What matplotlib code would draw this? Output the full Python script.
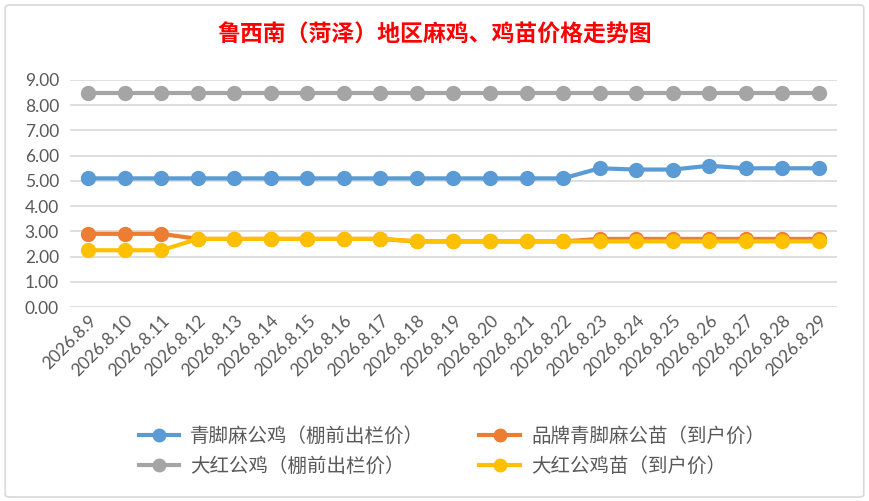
import matplotlib.pyplot as plt
from matplotlib.patches import FancyBboxPatch
from matplotlib.lines import Line2D

plt.rcParams['font.family'] = ['Noto Sans CJK SC', 'DejaVu Sans']

# 日期
dates = ['2026.8.9', '2026.8.10', '2026.8.11', '2026.8.12', '2026.8.13', '2026.8.14',
         '2026.8.15', '2026.8.16', '2026.8.17', '2026.8.18', '2026.8.19', '2026.8.20',
         '2026.8.21', '2026.8.22', '2026.8.23', '2026.8.24', '2026.8.25', '2026.8.26',
         '2026.8.27', '2026.8.28', '2026.8.29']

# 各系列价格
qingjiao_gongji = [5.1, 5.1, 5.1, 5.1, 5.1, 5.1, 5.1, 5.1, 5.1, 5.1, 5.1, 5.1, 5.1, 5.1,
                   5.5, 5.45, 5.45, 5.6, 5.5, 5.5, 5.5]
pinpai_miao = [2.9, 2.9, 2.9, 2.7, 2.7, 2.7, 2.7, 2.7, 2.7, 2.6, 2.6, 2.6, 2.6, 2.6,
               2.7, 2.7, 2.7, 2.7, 2.7, 2.7, 2.7]
dahong_gongji = [8.5] * 21
dahong_miao = [2.25, 2.25, 2.25, 2.7, 2.7, 2.7, 2.7, 2.7, 2.7, 2.6, 2.6, 2.6, 2.6, 2.6,
               2.6, 2.6, 2.6, 2.6, 2.6, 2.6, 2.6]

names = ['青脚麻公鸡（棚前出栏价）', '品牌青脚麻公苗（到户价）',
         '大红公鸡（棚前出栏价）', '大红公鸡苗（到户价）']
colors = ['#5B9BD5', '#ED7D31', '#A5A5A5', '#FFC000']
series = [qingjiao_gongji, pinpai_miao, dahong_gongji, dahong_miao]

fig = plt.figure(figsize=(8.69, 5.01), dpi=100)
fig.patches.append(FancyBboxPatch((0.006, 0.008), 0.988, 0.982, boxstyle='round,pad=0,rounding_size=0.005',
                                  transform=fig.transFigure, fc='none', ec='#D9D9D9', lw=1.2))

ax = fig.add_axes([70 / 869, 1 - 307 / 501, 767 / 869, 227 / 501])
x = range(len(dates))
for i in range(4):
    ax.plot(x, series[i], '-o', color=colors[i], lw=3, ms=10, zorder=3 + i)

ax.set_xlim(-0.5, len(dates) - 0.5)
ax.set_ylim(0, 9)
ax.set_yticks([i for i in range(10)])
ax.set_yticklabels(['%.2f' % i for i in range(10)], family='Lato', fontsize=12.5, color='#595959')
ax.set_xticks(list(x))
ax.set_xticklabels(dates, rotation=45, ha='right', rotation_mode='anchor',
                   family='Lato', fontsize=12.5, color='#595959')
ax.tick_params(length=0, pad=8)
ax.tick_params(axis='x', pad=4)
ax.grid(axis='y', color='#D9D9D9', lw=1.2)
ax.set_axisbelow(True)
for s in ax.spines.values():
    s.set_visible(False)

fig.text(0.5, 1 - 35 / 501, '鲁西南（菏泽）地区麻鸡、鸡苗价格走势图', ha='center', va='center',
         color='red', fontsize=16.5, fontweight='bold')

handles = [Line2D([], [], color=c, lw=3, marker='o', ms=9) for c in colors]
order = [0, 2, 1, 3]
fig.legend([handles[i] for i in order], [names[i] for i in order], ncol=2,
           loc='center left', bbox_to_anchor=(121 / 869, 1 - 451 / 501), frameon=False,
           fontsize=14, labelcolor='#595959', handlelength=2.1, columnspacing=2.85,
           labelspacing=0.45, handletextpad=0.55)

plt.savefig('out.png', dpi=100)
